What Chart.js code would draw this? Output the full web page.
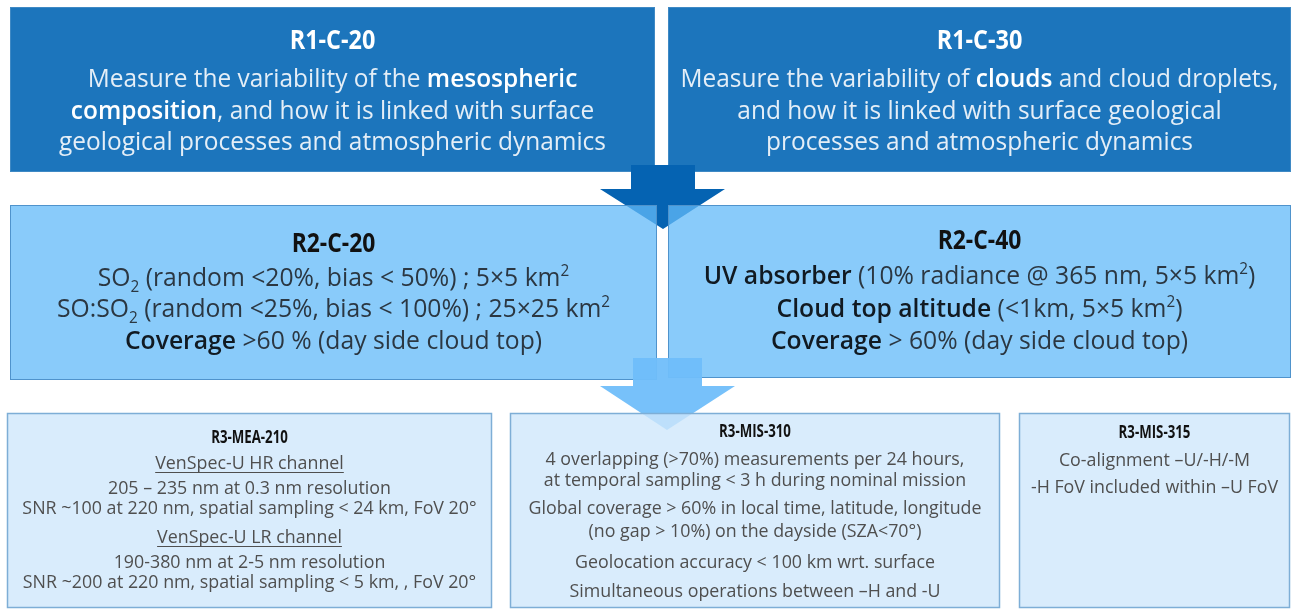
<!DOCTYPE html>
<html>
<head>
<meta charset="utf-8">
<script src="https://cdn.jsdelivr.net/npm/chart.js@4.4.1/dist/chart.umd.min.js"></script>
<style>
html,body{margin:0;padding:0;background:#ffffff;}
#wrap{width:1301px;height:610px;}
</style>
</head>
<body>
<div id="wrap"><canvas id="flowChart" width="1301" height="610"></canvas></div>
<script>
// requirement ids, one per box
const boxTitles = ["R1-C-20","R1-C-30","R2-C-20","R2-C-40","R3-MEA-210","R3-MIS-310","R3-MIS-315"];

// box texts: *bold*, {_x} subscript, {^x} superscript, leading _ = underlined line
const r1c20Lines = [
"Measure the variability of the *mesospheric*",
"*composition*, and how it is linked with surface",
"geological processes and atmospheric dynamics"
];
const r1c30Lines = [
"Measure the variability of *clouds* and cloud droplets,",
"and how it is linked with surface geological",
"processes and atmospheric dynamics"
];
const r2c20Lines = [
"SO{_2} (random <20%, bias < 50%) ; 5×5 km{^2}",
"SO:SO{_2} (random <25%, bias < 100%) ; 25×25 km{^2}",
"*Coverage* >60 % (day side cloud top)"
];
const r2c40Lines = [
"*UV absorber* (10% radiance @ 365 nm, 5×5 km{^2})",
"*Cloud top altitude* (<1km, 5×5 km{^2})",
"*Coverage* > 60% (day side cloud top)"
];
const r3mea210Lines = [
"_VenSpec-U HR channel",
"205 – 235 nm at 0.3 nm resolution",
"SNR ~100 at 220 nm, spatial sampling < 24 km, FoV 20°",
"_VenSpec-U LR channel",
"190-380 nm at 2-5 nm resolution",
"SNR ~200 at 220 nm, spatial sampling < 5 km, , FoV 20°"
];
const r3mis310Lines = [
"4 overlapping (>70%) measurements per 24 hours,",
"at temporal sampling < 3 h during nominal mission",
"Global coverage > 60% in local time, latitude, longitude",
"(no gap > 10%) on the dayside (SZA<70°)",
"Geolocation accuracy < 100 km wrt. surface",
"Simultaneous operations between –H and -U"
];
const r3mis315Lines = [
"Co-alignment –U/-H/-M",
"-H FoV included within –U FoV"
];
const boxLines = [r1c20Lines,r1c30Lines,r2c20Lines,r2c40Lines,r3mea210Lines,r3mis310Lines,r3mis315Lines];

// layout (chart units = pixels of the 1301x610 frame)
const boxLayout = [
{x0:10,y0:7,x1:655,y1:172,level:0,titleY:40,lineY:[78,110,141]},
{x0:668,y0:7,x1:1291,y1:172,level:0,titleY:40,lineY:[78,110,141]},
{x0:10,y0:205,x1:657,y1:380,level:1,titleY:243,lineY:[277,308,340]},
{x0:668,y0:205,x1:1291,y1:378,level:1,titleY:240,lineY:[275,308,340]},
{x0:7,y0:413,x1:492,y1:608,level:2,titleY:437,lineY:[463,488,508,537,562,582]},
{x0:510,y0:413,x1:1000,y1:608,level:2,titleY:431,lineY:[459,480,508,531,562,591]},
{x0:1019,y0:413,x1:1290,y1:608,level:2,titleY:432,lineY:[460,487]}
];

const levelStyle = [
{fill:"#1c75bc",stroke:"#3f89c4",lw:1,
 title:{size:26,squeeze:0.9,color:"#ffffff"},
 body:{size:26,squeeze:0.94,color:"#e4eef7",boldColor:"#ffffff"}},
{fill:"rgba(98,186,248,0.75)",stroke:"#4f93cc",lw:1,
 title:{size:26,squeeze:0.88,color:"#111111"},
 body:{size:26,squeeze:0.95,color:"#2b3742",boldColor:"#111a22"}},
{fill:"rgba(207,231,251,0.8)",stroke:"#7eaed6",lw:1.5,
 title:{size:17,squeeze:0.78,color:"#111111"},
 body:{size:18,squeeze:0.99,color:"#4f4f4f",boldColor:"#222222"}}
];

const arrows = [
{color:"#0563b2",pts:[[631,165],[695,165],[695,189],[725,189],[663,229],[600,189],[631,189]],before:1},
{color:"rgba(112,190,250,0.95)",pts:[[633,358],[702,358],[702,386],[735,386],[667,430],[600,386],[633,386]],before:2}
];

const bodyFont = "'Open Sans', 'DejaVu Sans', sans-serif";

function parseLine(s){
let underline=false;
if(s[0]==="_"){underline=true;s=s.slice(1);}
let segs=[];
let bold=false;
let buf="";
for(let i=0;i<s.length;i++){
const c=s[i];
if(c==="*"){
if(buf) segs.push({t:buf,bold:bold});
buf="";
bold=!bold;
continue;
}
if(c==="{"){
const j=s.indexOf("}",i);
const inner=s.slice(i+1,j);
if(buf) segs.push({t:buf,bold:bold});
buf="";
segs.push({t:inner.slice(1),bold:bold,sub:inner[0]==="_",sup:inner[0]==="^"});
i=j;
continue;
}
buf+=c;
}
if(buf) segs.push({t:buf,bold:bold});
return {underline,segs};
}

function fontFor(sg,st,isTitle){
let size = (sg.sub||sg.sup) ? st.size*0.62 : st.size;
let weight = isTitle ? 700 : (sg.bold ? 600 : 400);
return weight+" "+size+"px "+bodyFont;
}

function drawRich(ctx,text,cx,cy,st,isTitle){
const p=parseLine(text);
const widths=p.segs.map(sg=>{
ctx.font=fontFor(sg,st,isTitle);
return ctx.measureText(sg.t).width;
});
const total=widths.reduce((a,b)=>a+b,0);
ctx.save();
ctx.translate(cx-total*st.squeeze/2, cy+st.size*0.36);
ctx.scale(st.squeeze,1);
ctx.textBaseline="alphabetic";
ctx.textAlign="left";
let off=0;
p.segs.forEach((sg,i)=>{
ctx.font=fontFor(sg,st,isTitle);
ctx.fillStyle = sg.bold ? (st.boldColor||st.color) : st.color;
let dy=0;
if(sg.sub) dy=st.size*0.2;
if(sg.sup) dy=-st.size*0.38;
ctx.fillText(sg.t,off,dy);
off+=widths[i];
});
if(p.underline){
ctx.fillStyle=st.color;
ctx.fillRect(0,st.size*0.14,off,1);
}
ctx.restore();
}

const flowPlugin = {
id:"flowBoxes",
afterDatasetsDraw(chart){
const ctx=chart.ctx;
const sx=chart.scales.x;
const sy=chart.scales.y;
const px=v=>sx.getPixelForValue(v);
const py=v=>sy.getPixelForValue(v);

function drawArrow(a){
ctx.beginPath();
a.pts.forEach((pt,i)=>{
if(i===0) ctx.moveTo(px(pt[0]),py(pt[1]));
else ctx.lineTo(px(pt[0]),py(pt[1]));
});
ctx.closePath();
ctx.fillStyle=a.color;
ctx.fill();
}

ctx.save();
[0,1,2].forEach(level=>{
arrows.filter(a=>a.before===level).forEach(drawArrow);
boxLayout.forEach((b,i)=>{
if(b.level!==level) return;
const st=levelStyle[level];
const x0=px(b.x0), x1=px(b.x1), y0=py(b.y0), y1=py(b.y1);
ctx.fillStyle=st.fill;
ctx.fillRect(x0,y0,x1-x0,y1-y0);
ctx.strokeStyle=st.stroke;
ctx.lineWidth=st.lw;
ctx.strokeRect(x0+0.5,y0+0.5,x1-x0-1,y1-y0-1);
const cx=(x0+x1)/2;
drawRich(ctx,boxTitles[i],cx,py(b.titleY),st.title,true);
boxLines[i].forEach((ln,k)=>{
drawRich(ctx,ln,cx,py(b.lineY[k]),st.body,false);
});
});
});
ctx.restore();
}
};

new Chart(document.getElementById("flowChart"),{
type:"scatter",
data:{datasets:[{data:[]}]},
options:{
responsive:false,
animation:false,
events:[],
layout:{padding:0},
plugins:{
legend:{display:false},
tooltip:{enabled:false}
},
scales:{
x:{type:"linear",min:0,max:1301,display:false},
y:{type:"linear",min:0,max:610,reverse:true,display:false}
}
},
plugins:[flowPlugin]
});
</script>
</body>
</html>
